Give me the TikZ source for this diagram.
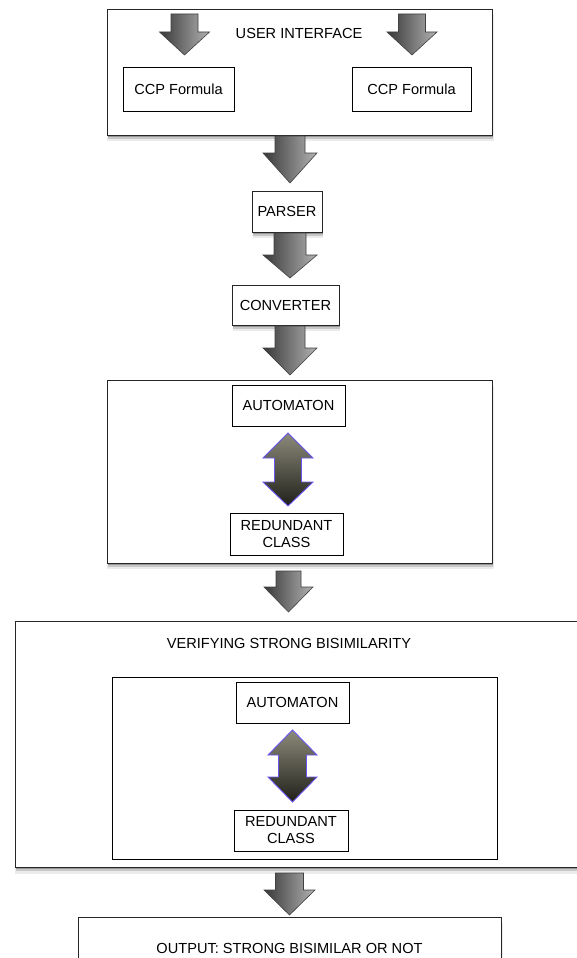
\documentclass[tikz,border=0pt]{standalone}
\usepackage{fontspec}
\setmainfont{Liberation Sans}
\usetikzlibrary{shadows}
\definecolor{duotop}{RGB}{140,138,122}
\definecolor{duobot}{RGB}{32,32,26}
\definecolor{duoline}{RGB}{105,85,240}
\tikzset{
  lbl/.style={font=\fontsize{14.6}{17}\selectfont, align=center, inner sep=0pt},
  frame/.style={draw=black!85, fill=white, line width=0.9pt, inner sep=0pt,
    font=\fontsize{14.6}{17}\selectfont, align=center,
    general shadow={fill=black, opacity=0.08, shadow xshift=1pt, shadow yshift=-6pt, shadow scale=1.005},
    general shadow={fill=black, opacity=0.15, shadow xshift=1pt, shadow yshift=-4pt},
    general shadow={fill=black, opacity=0.25, shadow xshift=0.5pt, shadow yshift=-2pt}},
  plainbox/.style={draw=black, fill=white, line width=0.8pt, inner sep=0pt,
    font=\fontsize{14.6}{17}\selectfont, align=center},
  grayarrow/.style={left color=black!78, right color=black!30, draw=black!75, line width=0.6pt},
  duoarrow/.style={top color=duotop, bottom color=duobot, draw=duoline, line width=0.9pt}
}
\newcommand\blockdown[6]{%
  \path[grayarrow] ({#1-#5},#2) -- ({#1+#5},#2) -- ({#1+#5},#3) -- ({#1+#6},#3)
    -- (#1,#4) -- ({#1-#6},#3) -- ({#1-#5},#3) -- cycle;}
\newcommand\blockupdown[7]{%
  \path[duoarrow] (#1,#2) -- ({#1+#7},#3) -- ({#1+#6},#3) -- ({#1+#6},#4)
    -- ({#1+#7},#4) -- (#1,#5) -- ({#1-#7},#4) -- ({#1-#6},#4) -- ({#1-#6},#3)
    -- ({#1-#7},#3) -- cycle;}
\begin{document}
\begin{tikzpicture}[x=1pt,y=-1pt]
\useasboundingbox (0,0) rectangle (576,958);
\fill[white] (0,0) rectangle (576,958);

% USER INTERFACE
\node[frame, minimum width=385pt, minimum height=126pt] (ui) at (299.5,72) {};
\node[lbl] (uilabel) at (299,33) {USER INTERFACE};
\node[plainbox, minimum width=111pt, minimum height=44pt] (ccp1) at (178.5,89) {CCP Formula};
\node[plainbox, minimum width=119pt, minimum height=44pt] (ccp2) at (411.5,89) {CCP Formula};

% PARSER, CONVERTER
\node[frame, minimum width=70pt, minimum height=41pt] (parser) at (287,211.5) {PARSER};
\node[frame, minimum width=107pt, minimum height=40pt] (converter) at (285.5,305) {CONVERTER};

% first automaton block
\node[frame, minimum width=385pt, minimum height=183pt] (autobox) at (299.5,471.5) {};
\node[plainbox, minimum width=113pt, minimum height=41pt] (auto1) at (288.5,405.5) {AUTOMATON};
\node[plainbox, minimum width=113pt, minimum height=42pt] (red1) at (286.5,534) {REDUNDANT\\CLASS};

% verifying block
\node[frame, minimum width=585pt, minimum height=246pt] (verify) at (307.5,744) {};
\node[lbl] (verifylabel) at (289,643) {VERIFYING STRONG BISIMILARITY};
\node[plainbox, minimum width=385pt, minimum height=182pt] (inner) at (304.5,768) {};
\node[plainbox, minimum width=113pt, minimum height=41pt] (auto2) at (292.5,702.5) {AUTOMATON};
\node[plainbox, minimum width=114pt, minimum height=41pt] (red2) at (291,830.5) {REDUNDANT\\CLASS};

% output
\node[frame, minimum width=423pt, minimum height=62pt] (output) at (289.5,948) {OUTPUT: STRONG BISIMILAR OR NOT};

% block arrows
\blockdown{184.5}{14}{32}{55}{13.5}{25}
\blockdown{412}{14}{32}{55}{13.5}{25}
\blockdown{290}{136}{153}{183}{15}{27}
\blockdown{290}{233}{255}{278}{16}{27}
\blockdown{290}{326}{348}{375}{15}{27}
\blockdown{288.5}{571}{587}{612}{12.5}{24.5}
\blockdown{289.5}{873}{890}{915}{14}{25.5}

\blockupdown{288}{433}{458}{482}{506}{13.5}{25}
\blockupdown{292.5}{730}{755}{777}{802}{14}{24.5}
\end{tikzpicture}
\end{document}
